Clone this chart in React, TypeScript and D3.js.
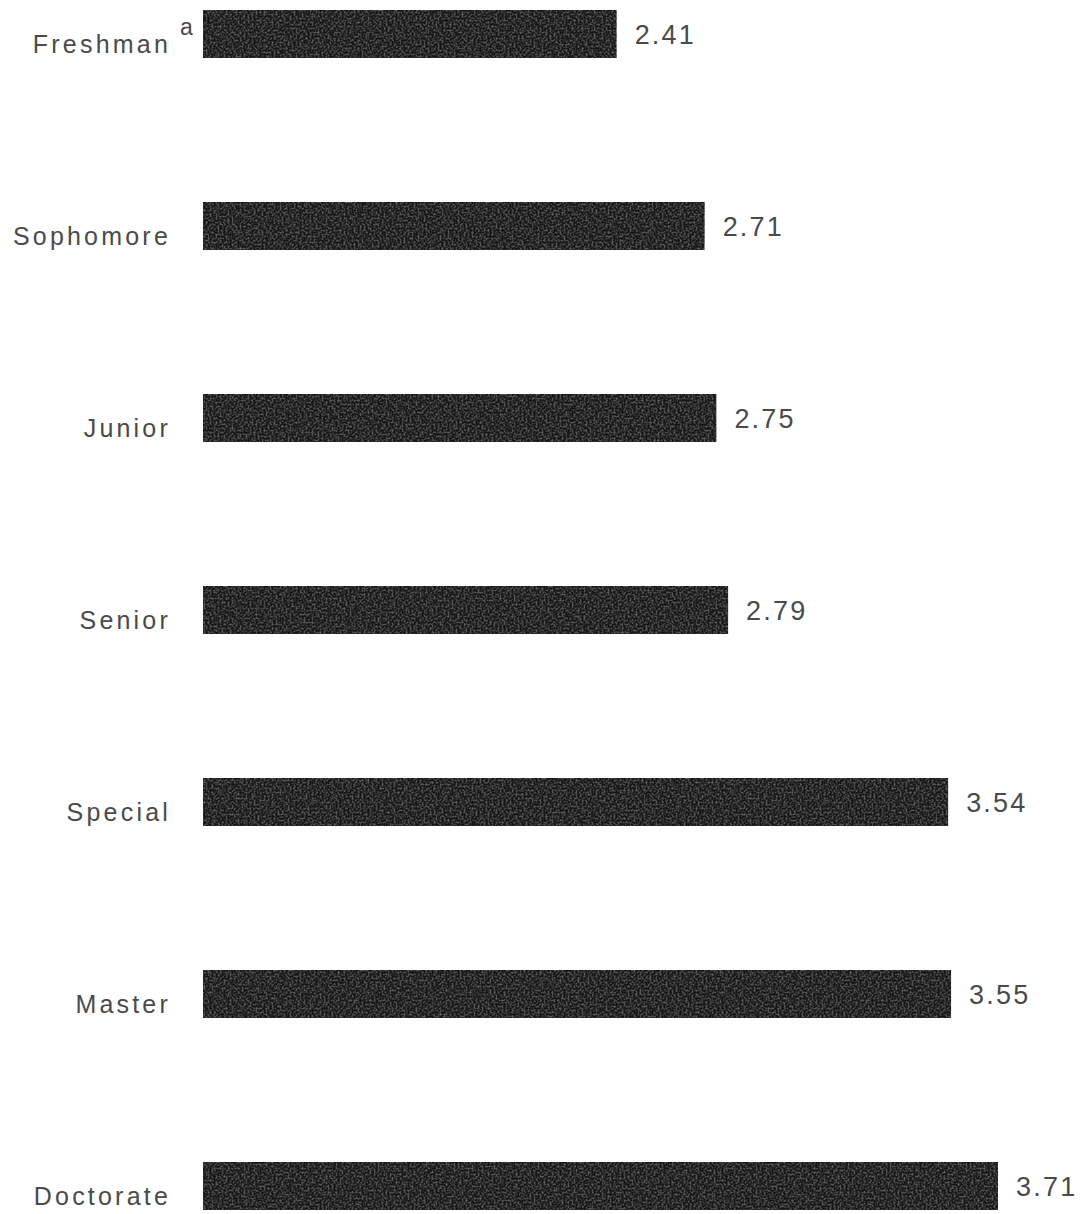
import * as d3 from "d3";
import { useEffect, useRef } from "react";

// categories, top to bottom
const levels = ["Freshman", "Sophomore", "Junior", "Senior", "Special", "Master", "Doctorate"];
// mean values
const means = [2.41, 2.71, 2.75, 2.79, 3.54, 3.55, 3.71];
// footnote markers next to a category label
const footnotes: Record<string, string> = { Freshman: "a" };

const width = 1083;
const height = 1214;

export default function App() {
  const ref = useRef<SVGSVGElement | null>(null);

  useEffect(() => {
    document.body.style.margin = "0";
    const svg = d3.select(ref.current);
    svg.selectAll("*").remove();

    const data = levels.map((l, i) => ({ level: l, value: means[i] }));

    // the bars start at 1 on the original scale, not 0
    const x = d3.scaleLinear().domain([1, d3.max(means)!]).range([203, 998]);
    const y = d3
      .scaleBand<string>()
      .domain(levels)
      .range([10, 1210])
      .paddingInner(0.75)
      .paddingOuter(0);

    // faint grain like the printed original
    const defs = svg.append("defs");
    const f = defs
      .append("filter")
      .attr("id", "grain")
      .attr("x", 0)
      .attr("y", 0)
      .attr("width", 1)
      .attr("height", 1);
    f.append("feTurbulence")
      .attr("type", "fractalNoise")
      .attr("baseFrequency", 0.5)
      .attr("numOctaves", 3)
      .attr("seed", 4)
      .attr("result", "noise");
    f.append("feColorMatrix")
      .attr("in", "noise")
      .attr("type", "matrix")
      .attr("values", "0 0 0 0 0.4  0 0 0 0 0.4  0 0 0 0 0.4  0.8 0 0 0 -0.36")
      .attr("result", "specks");
    f.append("feComposite")
      .attr("in", "specks")
      .attr("in2", "SourceGraphic")
      .attr("operator", "atop");

    svg.append("rect").attr("width", width).attr("height", height).attr("fill", "#fff");

    const g = svg.append("g");

    g.selectAll("rect.bar")
      .data(data)
      .join("rect")
      .attr("class", "bar")
      .attr("x", x(1))
      .attr("y", (d) => y(d.level)!)
      .attr("width", (d) => x(d.value) - x(1))
      .attr("height", y.bandwidth())
      .attr("fill", "#171717")
      .attr("filter", "url(#grain)");

    const labelFont = "'Liberation Sans', Arial, sans-serif";
    const ink = "#4a4a4a";

    g.selectAll("text.label")
      .data(data)
      .join("text")
      .attr("class", "label")
      .attr("x", 171)
      .attr("y", (d) => y(d.level)! + y.bandwidth() - 5)
      .attr("text-anchor", "end")
      .attr("font-family", labelFont)
      .attr("font-size", 25)
      .attr("letter-spacing", 3.2)
      .attr("fill", ink)
      .text((d) => d.level);

    g.selectAll("text.note")
      .data(data.filter((d) => footnotes[d.level]))
      .join("text")
      .attr("class", "note")
      .attr("x", 180)
      .attr("y", (d) => y(d.level)! + 25)
      .attr("font-family", labelFont)
      .attr("font-size", 23)
      .attr("fill", ink)
      .text((d) => footnotes[d.level]);

    g.selectAll("text.value")
      .data(data)
      .join("text")
      .attr("class", "value")
      .attr("x", (d) => x(d.value) + 18)
      .attr("y", (d) => y(d.level)! + y.bandwidth() / 2 + 10)
      .attr("font-family", labelFont)
      .attr("font-size", 27)
      .attr("letter-spacing", 2.2)
      .attr("fill", ink)
      .text((d) => d.value.toFixed(2));
  }, []);

  return <svg ref={ref} width={width} height={height} style={{ display: "block" }} />;
}
